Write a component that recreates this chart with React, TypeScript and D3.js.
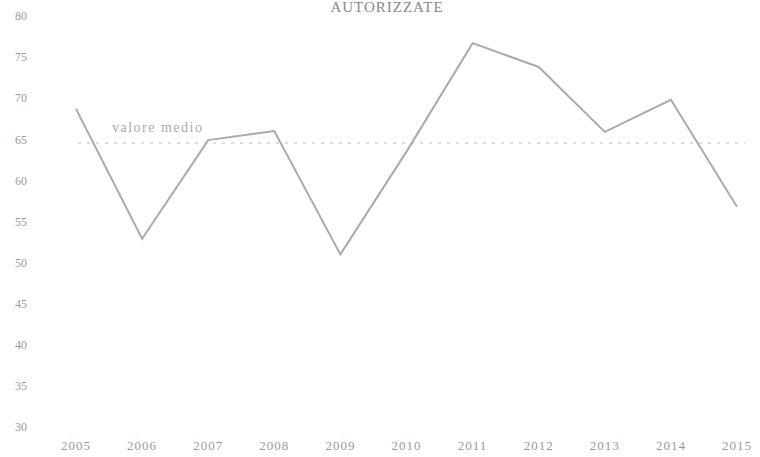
import React from "react";
import * as d3 from "d3";

const years = ["2005","2006","2007","2008","2009","2010","2011","2012","2013","2014","2015"];
const values = [68.7, 52.9, 64.9, 66.0, 51.0, 63.5, 76.7, 73.8, 65.9, 69.8, 56.8];
const yTicks = [80, 75, 70, 65, 60, 55, 50, 45, 40, 35, 30];
const title = "AUTORIZZATE";
const meanLabel = "valore medio";

export default function App() {
  const W = 760, H = 457;
  const x = d3.scalePoint<string>().domain(years).range([76, 737]);
  const y = d3.scaleLinear().domain([30, 80]).range([427, 16]);
  const mean = d3.mean(values) as number;
  const line = d3.line<number>().x((_, i) => x(years[i]) as number).y(d => y(d));
  const font = "'Liberation Serif', serif";
  return (
    <svg width={W} height={H} style={{ position: "absolute", left: 0, top: 0, background: "#fff" }}>
      <text x={387} y={12} textAnchor="middle" fontFamily={font} fontSize={15} letterSpacing={1} fill="#888">{title}</text>
      {yTicks.map(t => (
        <text key={t} x={27} y={y(t)} dy="0.35em" textAnchor="end" fontFamily={font} fontSize={12} fill="#999">{t}</text>
      ))}
      {years.map(yr => (
        <text key={yr} x={x(yr)} y={445} dy="0.35em" textAnchor="middle" fontFamily={font} fontSize={13} letterSpacing={1} fill="#999">{yr}</text>
      ))}
      <line x1={78} x2={745} y1={y(mean)} y2={y(mean)} stroke="#bbb" strokeWidth={1} strokeDasharray="3,6" />
      <text x={112} y={y(mean) - 11} fontFamily={font} fontSize={14} letterSpacing={1.5} fill="#aaa">{meanLabel}</text>
      <path d={line(values) as string} fill="none" stroke="#aaa" strokeWidth={2} />
    </svg>
  );
}
